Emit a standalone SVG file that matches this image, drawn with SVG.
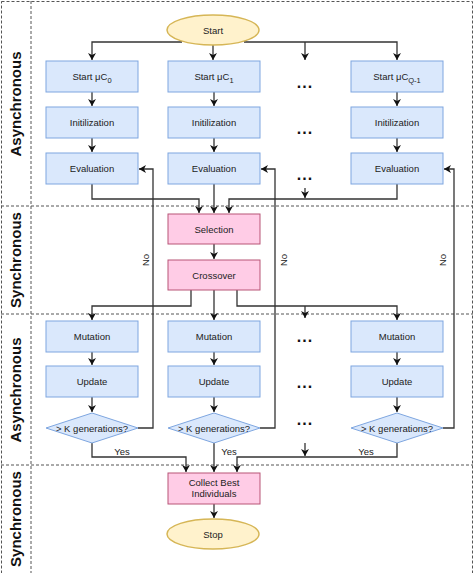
<svg xmlns="http://www.w3.org/2000/svg" width="474" height="573" viewBox="0 0 474 573">
<style>
.lane{fill:none;stroke:#555;stroke-width:1;stroke-dasharray:3 2}
.b{fill:#dae8fc;stroke:#7ea6e0;stroke-width:1}
.p{fill:#ffcce6;stroke:#b85477;stroke-width:1}
.y{fill:#fff2cc;stroke:#d6b656;stroke-width:1.5}
.t{font-family:"Liberation Sans",Arial,sans-serif;font-size:9.5px;fill:#222;text-anchor:middle}
.lt{font-family:"Liberation Sans",Arial,sans-serif;font-size:15px;font-weight:bold;fill:#111;text-anchor:middle}
.dots{font-family:"Liberation Sans",Arial,sans-serif;font-size:16px;font-weight:bold;fill:#111;text-anchor:middle;letter-spacing:1px}
.c{fill:none;stroke:#333;stroke-width:1.3}
</style>
<defs>
<marker id="a" markerWidth="8" markerHeight="8" refX="7" refY="4" orient="auto" markerUnits="userSpaceOnUse">
<path d="M0,0 L7,4 L0,8 L2,4 Z" fill="#111"/>
</marker>
</defs>
<rect width="474" height="573" fill="#fff"/>
<g id="lanes">
<rect class="lane" x="1.5" y="1.5" width="471" height="580"/>
<line class="lane" x1="31" y1="1" x2="31" y2="573"/>
<line class="lane" x1="1" y1="206" x2="473" y2="206"/>
<line class="lane" x1="1" y1="314" x2="473" y2="314"/>
<line class="lane" x1="1" y1="465" x2="473" y2="465"/>
<text class="lt" transform="translate(21,104) rotate(-90)">Asynchronous</text>
<text class="lt" transform="translate(21,260) rotate(-90)">Synchronous</text>
<text class="lt" transform="translate(21,390) rotate(-90)">Asynchronous</text>
<text class="lt" transform="translate(21,519) rotate(-90)">Synchronous</text>
</g>
<g id="connectors">
<path class="c" d="M213,45 V60" marker-end="url(#a)"/>
<path class="c" d="M182,42 H92 V60" marker-end="url(#a)"/>
<path class="c" d="M244,42 H397 V60" marker-end="url(#a)"/>
<path class="c" d="M305,42 V60" marker-end="url(#a)"/>
<path class="c" d="M92,92 V106" marker-end="url(#a)"/>
<path class="c" d="M214,92 V106" marker-end="url(#a)"/>
<path class="c" d="M397,92 V106" marker-end="url(#a)"/>
<path class="c" d="M92,138 V152" marker-end="url(#a)"/>
<path class="c" d="M214,138 V152" marker-end="url(#a)"/>
<path class="c" d="M397,138 V152" marker-end="url(#a)"/>
<path class="c" d="M92,184 V199 H199 V213" marker-end="url(#a)"/>
<path class="c" d="M214,184 V213" marker-end="url(#a)"/>
<path class="c" d="M397,184 V199 H229 V213" marker-end="url(#a)"/>
<path class="c" d="M305,188 V198" marker-end="url(#a)"/>
<path class="c" d="M214,244 V259" marker-end="url(#a)"/>
<path class="c" d="M191,290 V306 H92 V320" marker-end="url(#a)"/>
<path class="c" d="M214,290 V320" marker-end="url(#a)"/>
<path class="c" d="M237,290 V306 H397 V320" marker-end="url(#a)"/>
<path class="c" d="M305,306 V318" marker-end="url(#a)"/>
<path class="c" d="M92,352 V365" marker-end="url(#a)"/>
<path class="c" d="M214,352 V365" marker-end="url(#a)"/>
<path class="c" d="M397,352 V365" marker-end="url(#a)"/>
<path class="c" d="M92,397 V412" marker-end="url(#a)"/>
<path class="c" d="M214,397 V412" marker-end="url(#a)"/>
<path class="c" d="M397,397 V412" marker-end="url(#a)"/>
<path class="c" d="M138,428 H153 V169 H139" marker-end="url(#a)"/>
<path class="c" d="M260,428 H275 V169 H261" marker-end="url(#a)"/>
<path class="c" d="M443,428 H454 V169 H444" marker-end="url(#a)"/>
<path class="c" d="M92,443 V457 H186 V472" marker-end="url(#a)"/>
<path class="c" d="M214,443 V472" marker-end="url(#a)"/>
<path class="c" d="M397,443 V457 H237 V472" marker-end="url(#a)"/>
<path class="c" d="M305,443 V456" marker-end="url(#a)"/>
<path class="c" d="M214,504 V518" marker-end="url(#a)"/>
<text class="t" transform="translate(149,260) rotate(-90)">No</text>
<text class="t" transform="translate(287,260) rotate(-90)">No</text>
<text class="t" transform="translate(446,260) rotate(-90)">No</text>
<text class="t" x="122" y="455">Yes</text>
<text class="t" x="229" y="455">Yes</text>
<text class="t" x="366" y="455">Yes</text>
</g>
<g id="start"><ellipse class="y" cx="213" cy="30" rx="46" ry="15"/><text class="t" x="213" y="34">Start</text></g>
<g id="startuc0"><rect class="b" x="46" y="61" width="92" height="31"/><text class="t" x="92" y="80">Start μC<tspan font-size="7.5" dy="2.5">0</tspan></text></g>
<g id="startuc1"><rect class="b" x="168" y="61" width="92" height="31"/><text class="t" x="214" y="80">Start μC<tspan font-size="7.5" dy="2.5">1</tspan></text></g>
<g id="startucq"><rect class="b" x="351" y="61" width="92" height="31"/><text class="t" x="397" y="80">Start μC<tspan font-size="7.5" dy="2.5">Q-1</tspan></text></g>
<g id="init0"><rect class="b" x="46" y="107" width="92" height="31"/><text class="t" x="92" y="126">Initilization</text></g>
<g id="init1"><rect class="b" x="168" y="107" width="92" height="31"/><text class="t" x="214" y="126">Initilization</text></g>
<g id="initq"><rect class="b" x="351" y="107" width="92" height="31"/><text class="t" x="397" y="126">Initilization</text></g>
<g id="eval0"><rect class="b" x="46" y="153" width="92" height="31"/><text class="t" x="92" y="172">Evaluation</text></g>
<g id="eval1"><rect class="b" x="168" y="153" width="92" height="31"/><text class="t" x="214" y="172">Evaluation</text></g>
<g id="evalq"><rect class="b" x="351" y="153" width="92" height="31"/><text class="t" x="397" y="172">Evaluation</text></g>
<g id="dots1"><text class="dots" x="305" y="88">...</text></g>
<g id="dots2"><text class="dots" x="305" y="134">...</text></g>
<g id="dots3"><text class="dots" x="305" y="180">...</text></g>
<g id="selection"><rect class="p" x="168" y="214" width="92" height="30"/><text class="t" x="214" y="233">Selection</text></g>
<g id="crossover"><rect class="p" x="168" y="260" width="92" height="30"/><text class="t" x="214" y="279">Crossover</text></g>
<g id="mut0"><rect class="b" x="46" y="321" width="92" height="31"/><text class="t" x="92" y="340">Mutation</text></g>
<g id="mut1"><rect class="b" x="168" y="321" width="92" height="31"/><text class="t" x="214" y="340">Mutation</text></g>
<g id="mutq"><rect class="b" x="351" y="321" width="92" height="31"/><text class="t" x="397" y="340">Mutation</text></g>
<g id="upd0"><rect class="b" x="46" y="366" width="92" height="31"/><text class="t" x="92" y="385">Update</text></g>
<g id="upd1"><rect class="b" x="168" y="366" width="92" height="31"/><text class="t" x="214" y="385">Update</text></g>
<g id="updq"><rect class="b" x="351" y="366" width="92" height="31"/><text class="t" x="397" y="385">Update</text></g>
<g id="dots4"><text class="dots" x="305" y="342">...</text></g>
<g id="dots5"><text class="dots" x="305" y="388">...</text></g>
<g id="dots6"><text class="dots" x="305" y="425">...</text></g>
<g id="dec0"><polygon class="b" points="92,413 138,428 92,443 46,428"/><text class="t" x="92" y="432">&gt; K generations?</text></g>
<g id="dec1"><polygon class="b" points="214,413 260,428 214,443 168,428"/><text class="t" x="214" y="432">&gt; K generations?</text></g>
<g id="decq"><polygon class="b" points="397,413 443,428 397,443 351,428"/><text class="t" x="397" y="432">&gt; K generations?</text></g>
<g id="collect"><rect class="p" x="168" y="473" width="92" height="31"/><text class="t" x="214" y="486">Collect Best</text><text class="t" x="214" y="497">Individuals</text></g>
<g id="stop"><ellipse class="y" cx="213" cy="534" rx="46" ry="15"/><text class="t" x="213" y="538">Stop</text></g>
</svg>
